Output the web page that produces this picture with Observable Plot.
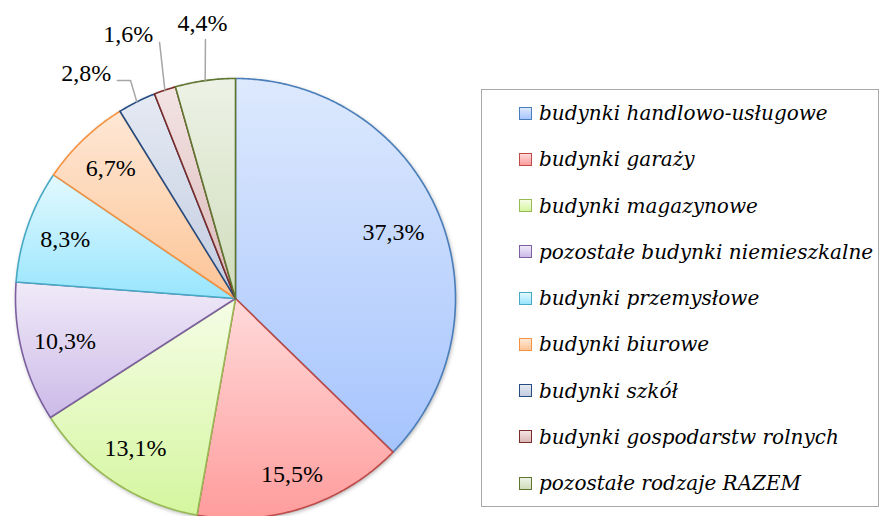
<!DOCTYPE html>
<html><head><meta charset="utf-8">
<script src="https://cdn.jsdelivr.net/npm/d3@7"></script>
<script src="https://cdn.jsdelivr.net/npm/@observablehq/plot@0.6"></script>
<style>
body{margin:0;background:#fff;}
#wrap{position:relative;width:887px;height:516px;overflow:hidden;background:#fff;}
#chart{position:absolute;left:0;top:0;}
#legendBox{position:absolute;left:481px;top:89px;width:398px;height:418px;border:1.5px solid #a9a9a9;box-sizing:border-box;}
.row{position:absolute;left:519px;height:30px;display:flex;align-items:center;font-family:"DejaVu Serif",serif;font-style:italic;font-size:20px;color:#000;white-space:nowrap;}
.sw{width:11px;height:11px;border:1.5px solid;margin-right:7px;flex:none;}
</style></head><body>
<div id="wrap"><div id="chart"></div><div id="legendBox"></div></div>
<script>
// ---- data ----
const categories = [
  "budynki handlowo-usługowe",
  "budynki garaży",
  "budynki magazynowe",
  "pozostałe budynki niemieszkalne",
  "budynki przemysłowe",
  "budynki biurowe",
  "budynki szkół",
  "budynki gospodarstw rolnych",
  "pozostałe rodzaje RAZEM"
];
const values = [37.3, 15.5, 13.1, 10.3, 8.3, 6.7, 2.8, 1.6, 4.4];
const valueLabels = ["37,3%", "15,5%", "13,1%", "10,3%", "8,3%", "6,7%", "2,8%", "1,6%", "4,4%"];

// ---- styles ----
const fillTop    = ["#dde9fd","#ffdada","#f5fde6","#f0eaf8","#e3f9fe","#fee8d6","#e5eaf3","#f3e4e4","#edf2e6"];
const fillBottom = ["#a6c4fd","#ff9c9c","#d5f69f","#ccbae8","#98e5fd","#fcc496","#c2cce0","#dbb7b7","#d0dcbb"];
const strokes    = ["#4a7ebb","#be4b48","#98b954","#7d60a0","#46aac5","#f69240","#264d82","#7a2c2a","#5f7530"];

// ---- layout (label placement, polar: radius factor, angle offset in degrees from slice middle) ----
const insideR = [0.78, 0.84, 0.82, 0.80, 0.82, 0.82];
const outside = {
  6: {label: [1.227, -6.9], leader: [[1, 0], [1.10, 0.94], [1.127, -1.8]]},
  7: {label: [1.295, -3.4], leader: [[1, 0], [1.214, 2.2]]},
  8: {label: [1.258, 1.07], leader: [[1, 0], [1.185, 1.3]]}
};

const total = d3.sum(values);
const rad = d => d * Math.PI / 180;
const polar = (r, deg) => ({x: r * Math.sin(rad(deg)), y: -r * Math.cos(rad(deg))});

let acc = 0;
const slices = values.map((v, i) => {
  const a0 = acc / total * 360; acc += v; const a1 = acc / total * 360;
  const n = Math.max(2, Math.ceil((a1 - a0) / 0.5));
  const pts = [{x: 0, y: 0}];
  for (let k = 0; k <= n; k++) pts.push(polar(1, a0 + (a1 - a0) * k / n));
  pts.push({x: 0, y: 0});
  return {i, a0, a1, mid: (a0 + a1) / 2, pts};
});

const circle = d3.range(0, 361, 1).map(a => polar(1, a));

const labelData = slices.map(s => {
  const o = outside[s.i];
  const p = o ? polar(o.label[0], s.mid + o.label[1]) : polar(insideR[s.i], s.mid);
  return {...p, text: valueLabels[s.i]};
});
const leaderData = [];
for (const s of slices) {
  const o = outside[s.i];
  if (!o) continue;
  o.leader.forEach(([r, da]) => leaderData.push({...polar(r, s.mid + da), k: s.i}));
}

const marks = [
  Plot.line(circle, {x: "x", y: "y", fill: "#000", fillOpacity: 0.35, stroke: "none"}),
  ...slices.map(s => Plot.line(s.pts, {x: "x", y: "y", fill: `url(#grad${s.i})`, stroke: strokes[s.i], strokeWidth: 1.6, strokeLinejoin: "round"})),
  Plot.line(leaderData, {x: "x", y: "y", z: "k", stroke: "#a6a6a6", strokeWidth: 1.5}),
  Plot.text(labelData, {x: "x", y: "y", text: "text", fontSize: 24, fontFamily: "Liberation Serif", fill: "#000"})
];

const svg = Plot.plot({
  width: 887, height: 516,
  margin: 0,
  x: {domain: [-1, 1], range: [15, 455], axis: null},
  y: {domain: [-1, 1], range: [78, 518], axis: null},
  style: {background: "transparent", overflow: "visible"},
  marks
});

const s = d3.select(svg);
const defs = s.insert("defs", ":first-child");
fillTop.forEach((c, i) => {
  const g = defs.append("linearGradient").attr("id", `grad${i}`).attr("x1", 0).attr("y1", 0).attr("x2", 0).attr("y2", 1);
  g.append("stop").attr("offset", "0%").attr("stop-color", c);
  g.append("stop").attr("offset", "100%").attr("stop-color", fillBottom[i]);
});
const f = defs.append("filter").attr("id", "shadow").attr("x", "-10%").attr("y", "-10%").attr("width", "120%").attr("height", "120%");
f.append("feGaussianBlur").attr("stdDeviation", 2);
const lineGroups = s.selectAll('g[aria-label="line"]').nodes();
d3.select(lineGroups[0]).attr("transform", "translate(1.5,2)").attr("filter", "url(#shadow)");

document.getElementById("chart").appendChild(svg);

// ---- legend ----
const wrap = d3.select("#wrap");
categories.forEach((c, i) => {
  const row = wrap.append("div").attr("class", "row").style("top", `${113 + 46.25 * i - 15}px`);
  row.append("div").attr("class", "sw")
    .style("border-color", strokes[i])
    .style("background", `linear-gradient(${fillTop[i]}, ${fillBottom[i]})`);
  row.append("span").text(c);
});
</script>
</body></html>
